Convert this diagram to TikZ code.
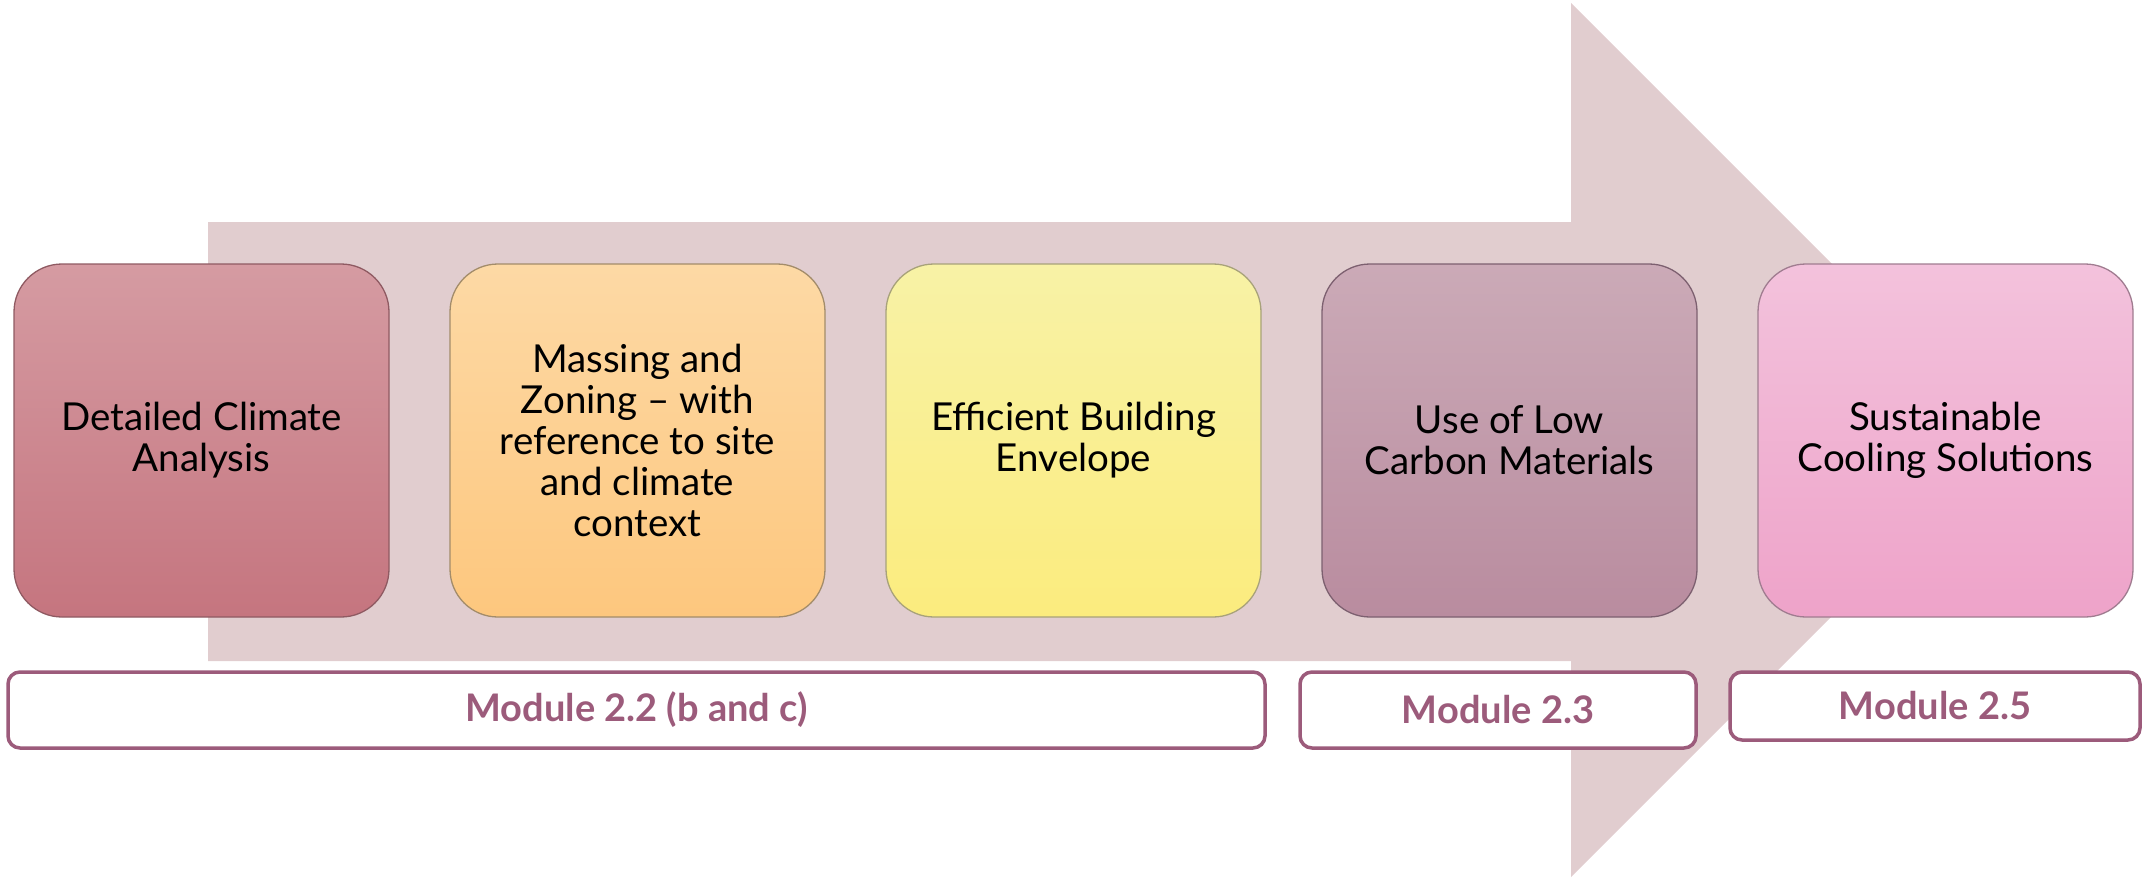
\documentclass[tikz,border=0pt]{standalone}
\usepackage{fontspec}
\setmainfont{Lato}
\definecolor{arrowfill}{HTML}{E1CDCF}
\definecolor{modcol}{HTML}{9C5B7B}
\definecolor{aTop}{HTML}{D59BA2}\definecolor{aBot}{HTML}{C5757F}\definecolor{aLine}{HTML}{8F5A62}
\definecolor{bTop}{HTML}{FDD9A5}\definecolor{bBot}{HTML}{FDC77E}\definecolor{bLine}{HTML}{A38C6A}
\definecolor{cTop}{HTML}{F8F2A6}\definecolor{cBot}{HTML}{FBEC7E}\definecolor{cLine}{HTML}{A8A27A}
\definecolor{dTop}{HTML}{CBAAB7}\definecolor{dBot}{HTML}{B98C9F}\definecolor{dLine}{HTML}{7D6070}
\definecolor{eTop}{HTML}{F3C2DC}\definecolor{eBot}{HTML}{EEA3C9}\definecolor{eLine}{HTML}{A07C90}
\begin{document}
\begin{tikzpicture}[x=1pt,y=-1pt,
  stepbox/.style={rounded corners=48pt, minimum width=375pt, minimum height=353pt,
    inner sep=0pt, align=center, line width=1.3pt,
    font=\fontsize{38.5}{41}\selectfont},
  modbox/.style={draw=modcol, line width=3.5pt, rounded corners=12pt, fill=white,
    inner sep=0pt, text=modcol, font=\fontsize{38}{42}\selectfont\bfseries}]
\useasboundingbox (0,0) rectangle (2145,880);
% big arrow
\fill[arrowfill] (208,222) -- (1571,222) -- (1571,3) -- (2008,440) -- (1571,877)
  -- (1571,661) -- (208,661) -- cycle;
% step boxes
\node[stepbox, draw=aLine, top color=aTop, bottom color=aBot] (s1) at (201.5,440.5)
  {Detailed Climate\\Analysis};
\node[stepbox, draw=bLine, top color=bTop, bottom color=bBot] (s2) at (637.5,440.5)
  {Massing and\\Zoning – with\\reference to site\\and climate\\context};
\node[stepbox, draw=cLine, top color=cTop, bottom color=cBot] (s3) at (1073.5,440.5)
  {Efficient Building\\Envelope};
\node[stepbox, draw=dLine, top color=dTop, bottom color=dBot] (s4) at (1509.5,440.5)
  {Use of Low\\Carbon Materials};
\node[stepbox, draw=eLine, top color=eTop, bottom color=eBot] (s5) at (1945.5,440.5)
  {Sustainable\\Cooling Solutions};
% module boxes
\node[modbox, minimum width=1257pt, minimum height=76pt] (m1) at (636.5,710) {Module 2.2 (b and c)};
\node[modbox, minimum width=396pt, minimum height=76pt] (m2) at (1498,710) {Module 2.3};
\node[modbox, minimum width=410pt, minimum height=68pt] (m3) at (1935,706) {Module 2.5};
\end{tikzpicture}
\end{document}
